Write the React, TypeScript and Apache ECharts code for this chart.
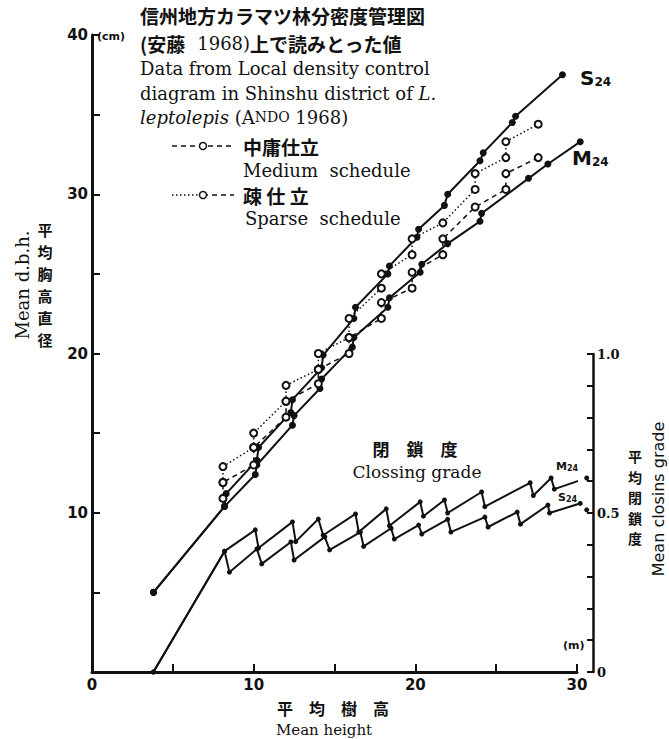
import React, { useEffect, useRef } from "react";
import * as echarts from "echarts";

// Mean d.b.h. (cm) vs mean height (m)
const s24Dbh: number[][] = [
  [3.8, 5.0], [8.2, 10.4], [8.3, 11.2], [10.2, 13.3], [10.3, 14.1], [12.3, 16.3], [12.4, 17.1],
  [14.2, 19.1], [14.3, 19.9], [16.2, 22.2], [16.3, 22.9], [18.3, 25.0], [18.4, 25.5],
  [20.1, 27.3], [20.2, 27.8], [21.8, 29.3], [22.0, 30.0], [24.0, 32.1], [24.2, 32.6],
  [26.0, 34.5], [26.2, 34.9], [29.1, 37.5],
];
const m24Dbh: number[][] = [
  [3.8, 5.0], [8.2, 10.4], [10.1, 12.4], [10.2, 13.0], [12.4, 15.5], [12.5, 16.1],
  [14.1, 17.8], [14.2, 18.4], [16.1, 20.4], [16.2, 21.0], [18.3, 22.9], [18.4, 23.5],
  [20.3, 25.1], [20.4, 25.6], [22.0, 26.9], [24.0, 28.3], [24.1, 28.8], [27.0, 31.0],
  [28.2, 31.9], [30.2, 33.3],
];
const sparseDbh: number[][] = [
  [8.1, 11.9], [8.1, 12.9], [10.0, 14.1], [10.0, 15.0], [12.0, 17.0], [12.0, 18.0],
  [14.0, 19.0], [14.0, 20.0], [15.9, 21.0], [15.9, 22.2], [17.9, 24.1], [17.9, 25.0],
  [19.8, 26.2], [19.8, 27.2], [21.7, 28.2], [23.7, 30.3], [23.7, 31.3], [25.6, 32.3],
  [25.6, 33.3], [27.6, 34.4],
];
const mediumDbh: number[][] = [
  [8.1, 10.9], [8.1, 11.9], [10.0, 13.0], [10.0, 14.1], [12.0, 16.0], [12.0, 17.0],
  [14.0, 18.1], [14.0, 19.0], [15.9, 20.0], [15.9, 21.0], [17.9, 22.2], [17.9, 23.2],
  [19.8, 24.1], [19.8, 25.1], [21.7, 26.2], [21.7, 27.2], [23.7, 29.2], [25.6, 30.3],
  [25.6, 31.3], [27.6, 32.3],
];
// Mean closing grade vs mean height
const m24Closing: number[][] = [
  [3.8, 0], [8.2, 0.38], [10.1, 0.447], [10.3, 0.39], [12.4, 0.472], [12.6, 0.41],
  [14.0, 0.481], [14.3, 0.43], [16.3, 0.497], [16.5, 0.44], [18.2, 0.513], [18.4, 0.46],
  [20.3, 0.535], [20.5, 0.49], [21.8, 0.541], [22.0, 0.5], [24.1, 0.566], [24.3, 0.52],
  [27.1, 0.595], [27.3, 0.555], [28.4, 0.61], [28.6, 0.575], [30.6, 0.61],
];
const s24Closing: number[][] = [
  [3.8, 0], [8.2, 0.38], [8.5, 0.314], [10.2, 0.387], [10.5, 0.34], [12.3, 0.409], [12.5, 0.352],
  [14.4, 0.425], [14.7, 0.384], [16.6, 0.44], [16.8, 0.395], [18.5, 0.452], [18.7, 0.418],
  [20.2, 0.462], [20.4, 0.434], [22.0, 0.48], [22.2, 0.44], [24.3, 0.487], [24.5, 0.456],
  [26.3, 0.503], [26.5, 0.465], [28.2, 0.525], [28.3, 0.5], [30.2, 0.53], [30.6, 0.51],
];
const xTickLabels = [0, 10, 20, 30];
const yTickLabels = [10, 20, 30, 40];

const INK = "#111";
const SERIF = "'DejaVu Serif', serif";
const SANS = "'DejaVu Sans', sans-serif";
const CJK = "'Noto Sans CJK JP', sans-serif";

function txt(text: string, x: number, y: number, extra: any = {}, elExtra: any = {}) {
  const fs = extra.fontSize ?? 18;
  return {
    type: "text",
    x,
    y,
    ...elExtra,
    style: {
      text, fill: INK, fontFamily: SERIF, fontSize: 18, lineHeight: fs,
      align: "left", verticalAlign: "middle", ...extra,
    },
  };
}

function sub(big: number, small: number, pad: number) {
  return {
    a: { fontFamily: SANS, fontSize: big, fontWeight: "bold", fill: INK, lineHeight: big },
    b: { fontFamily: SANS, fontSize: small, fontWeight: "bold", fill: INK, lineHeight: big, padding: [pad, 0, 0, 0] },
  };
}

export default function App() {
  const ref = useRef<HTMLDivElement>(null);
  useEffect(() => {
    if (!ref.current) return;
    const chart = echarts.init(ref.current, null, { renderer: "svg" });
    const near = (v: number, list: number[]) => list.some((t) => Math.abs(v - t) < 1e-6);
    const solid = (data: number[][], xi: number, size: number) => ({
      type: "line", data, xAxisIndex: xi, yAxisIndex: xi, symbol: "circle", symbolSize: size,
      itemStyle: { color: INK }, lineStyle: { color: INK, width: 2 }, clip: false, z: 3,
    });
    const open = (data: number[][], dash: number[]) => ({
      type: "line", data, xAxisIndex: 0, yAxisIndex: 0, symbol: "emptyCircle", symbolSize: 7,
      itemStyle: { color: INK, borderWidth: 1.4 }, lineStyle: { color: INK, width: 1.5, type: dash }, z: 4,
    });
    const graphic: any[] = [
      txt("信州地方カラマツ林分密度管理図", 140, 15, { fontFamily: CJK, fontSize: 19, fontWeight: "bold" }),
      txt("{j|(安藤}  {s|1968)}{j|上で読みとった値}", 140, 43, {
        fontSize: 19,
        rich: {
          j: { fontFamily: CJK, fontSize: 19, fontWeight: "bold", fill: INK, lineHeight: 19 },
          s: { fontFamily: SERIF, fontSize: 18, fill: INK, lineHeight: 19 },
        },
      }),
      txt("Data from Local density control", 140, 68),
      txt("diagram in Shinshu district of {i|L.}", 140, 93, {
        rich: { i: { fontFamily: SERIF, fontSize: 18, fontStyle: "italic", fill: INK, lineHeight: 18 } },
      }),
      txt("{i|leptolepis} (A{c|NDO} 1968)", 140, 117, {
        rich: {
          i: { fontFamily: SERIF, fontSize: 18, fontStyle: "italic", fill: INK, lineHeight: 18 },
          c: { fontFamily: SERIF, fontSize: 14, fill: INK, lineHeight: 18 },
        },
      }),
      // legend: medium schedule
      { type: "line", shape: { x1: 172, y1: 146, x2: 234, y2: 146 }, style: { stroke: INK, lineWidth: 1.6, lineDash: [5, 4] } },
      { type: "circle", shape: { cx: 203, cy: 146, r: 3.5 }, style: { fill: "#fff", stroke: INK, lineWidth: 1.5 }, z: 10 },
      txt("中庸仕立", 243, 146, { fontFamily: CJK, fontSize: 19, fontWeight: "bold" }),
      txt("Medium  schedule", 243, 170),
      // legend: sparse schedule
      { type: "line", shape: { x1: 172, y1: 195, x2: 203, y2: 195 }, style: { stroke: INK, lineWidth: 1.4, lineDash: [1.5, 2.5] } },
      { type: "line", shape: { x1: 203, y1: 195, x2: 234, y2: 195 }, style: { stroke: INK, lineWidth: 1.4, lineDash: [5, 4] } },
      { type: "circle", shape: { cx: 203, cy: 195, r: 3.5 }, style: { fill: "#fff", stroke: INK, lineWidth: 1.5 }, z: 10 },
      txt("疎 仕 立", 243, 195, { fontFamily: CJK, fontSize: 19, fontWeight: "bold" }),
      txt("Sparse  schedule", 245, 218),
      // curve labels
      txt("{a|S}{b|24}", 580, 78, { fontSize: 20, rich: sub(20, 12, 8) }),
      txt("{a|M}{b|24}", 572, 158, { fontSize: 20, rich: sub(20, 12, 8) }),
      txt("{a|M}{b|24}", 556, 466, { fontSize: 11, rich: sub(11, 8, 4) }),
      txt("{a|S}{b|24}", 558, 497, { fontSize: 11, rich: sub(11, 8, 4) }),
      // closing grade label
      txt("閉　鎖　度", 415, 448, { fontFamily: CJK, fontSize: 17, fontWeight: "bold", align: "center" }),
      txt("Clossing grade", 417, 472, { fontSize: 17, align: "center" }),
      // units
      txt("(cm)", 97, 36, { fontFamily: SANS, fontSize: 11, fontWeight: "bold" }),
      txt("(m)", 563, 645, { fontFamily: SANS, fontSize: 11, fontWeight: "bold" }),
      // x axis title
      txt("平　均　樹　高", 333, 708, { fontFamily: CJK, fontSize: 16, fontWeight: "bold", align: "center" }),
      txt("Mean height", 324, 730, { fontSize: 15, align: "center" }),
      // left axis titles
      txt("Mean d.b.h.", 22, 285, { align: "center" }, { rotation: Math.PI / 2 }),
      txt("平\n均\n胸\n高\n直\n径", 45, 284, { fontFamily: CJK, fontSize: 15, fontWeight: "bold", align: "center", lineHeight: 22 }),
      // right axis titles
      txt("平\n均\n閉\n鎖\n度", 635, 497, { fontFamily: CJK, fontSize: 14, fontWeight: "bold", align: "center", lineHeight: 20.5 }),
      txt("Mean closins grade", 658, 499, { fontFamily: SANS, fontSize: 16, align: "center" }, { rotation: Math.PI / 2 }),
    ];

    chart.setOption({
      animation: false,
      backgroundColor: "#fff",
      grid: [
        { left: 92, top: 35, width: 485, height: 637 },
        { left: 92, top: 354, width: 485, height: 318 },
      ],
      xAxis: [
        {
          type: "value", gridIndex: 0, min: 0, max: 30, interval: 5,
          axisLine: { onZero: false, lineStyle: { color: INK, width: 3 } },
          axisTick: { inside: true, length: 8, lineStyle: { color: INK, width: 2 } },
          axisLabel: {
            color: INK, fontFamily: SANS, fontWeight: "bold", fontSize: 15, margin: 5,
            formatter: (v: number) => (near(v, xTickLabels) ? String(v) : ""),
          },
          splitLine: { show: false },
        },
        { type: "value", gridIndex: 1, min: 0, max: 30, show: false },
      ],
      yAxis: [
        {
          type: "value", gridIndex: 0, min: 0, max: 40, interval: 5,
          axisLine: { show: true, onZero: false, lineStyle: { color: INK, width: 3 } },
          axisTick: { show: true, inside: true, length: 8, lineStyle: { color: INK, width: 2 } },
          axisLabel: {
            color: INK, fontFamily: SANS, fontWeight: "bold", fontSize: 15, margin: 4,
            formatter: (v: number) => (near(v, yTickLabels) ? String(v) : ""),
          },
          splitLine: { show: false },
        },
        {
          type: "value", gridIndex: 1, position: "right", offset: 16, min: 0, max: 1, interval: 0.1,
          axisLine: { show: true, onZero: false, lineStyle: { color: INK, width: 2.5 } },
          axisTick: { show: true, inside: true, length: 6, lineStyle: { color: INK, width: 2 } },
          axisLabel: {
            color: INK, fontFamily: SERIF, fontWeight: "bold", fontSize: 13, margin: 4,
            formatter: (v: number) => (Math.abs(v) < 1e-6 ? "0" : Math.abs(v - 0.5) < 1e-6 ? "0.5" : Math.abs(v - 1) < 1e-6 ? "1.0" : ""),
          },
          splitLine: { show: false },
        },
      ],
      series: [
        { name: "S24", ...solid(s24Dbh, 0, 7) },
        { name: "M24", ...solid(m24Dbh, 0, 7) },
        { name: "疎仕立 Sparse schedule", ...open(sparseDbh, [1.5, 2.5]) },
        { name: "中庸仕立 Medium schedule", ...open(mediumDbh, [5, 4]) },
        { name: "M24 closing", ...solid(m24Closing, 1, 5) },
        { name: "S24 closing", ...solid(s24Closing, 1, 5) },
      ],
      graphic,
    });
    return () => chart.dispose();
  }, []);
  return <div ref={ref} style={{ position: "absolute", left: 0, top: 0, width: 669, height: 739, background: "#fff" }} />;
}
